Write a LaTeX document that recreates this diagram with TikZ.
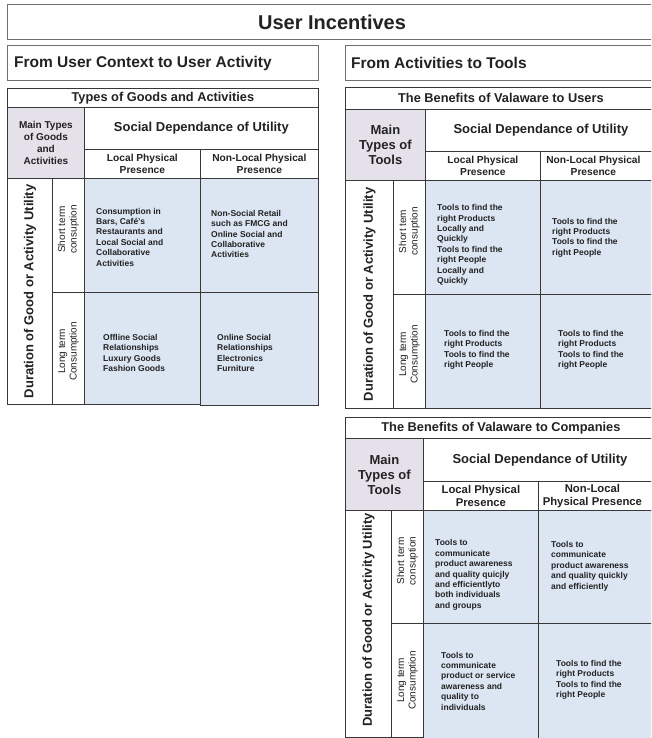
\documentclass[tikz,border=0pt]{standalone}
\usepackage{fontspec}
\setmainfont{Liberation Sans}
\definecolor{linedark}{HTML}{383838}
\definecolor{boxgray}{HTML}{707070}
\definecolor{lav}{HTML}{E5E1EA}
\definecolor{cellblue}{HTML}{DCE6F2}
\definecolor{ink}{HTML}{222222}
% font sizes (1pt = 1 unit of the picture)
\newcommand\fntTitle{\fontsize{20}{24}\selectfont\bfseries}
\newcommand\fntSec{\fontsize{15.5}{18}\selectfont\bfseries}
\newcommand\fntTab{\fontsize{12.8}{15}\selectfont\bfseries}
\newcommand\fntSoc{\fontsize{13}{15}\selectfont\bfseries}
\newcommand\fntMainS{\fontsize{10}{12}\selectfont\bfseries}
\newcommand\fntMainL{\fontsize{13}{15}\selectfont\bfseries}
\newcommand\fntCol{\fontsize{10.2}{12}\selectfont\bfseries}
\newcommand\fntColL{\fontsize{11.3}{13.5}\selectfont\bfseries}
\newcommand\fntDur{\fontsize{13}{15}\selectfont\bfseries}
\newcommand\fntRow{\fontsize{10}{11.5}\selectfont}
\newcommand\fntBody{\fontsize{8.5}{10.4}\selectfont\bfseries}
\tikzset{
  outerbox/.style={draw=boxgray, line width=1.1pt, inner sep=0pt, anchor=north west, text=ink},
  cellbase/.style={draw=linedark, line width=0.8pt, inner sep=0pt, anchor=north west, align=center, text=ink},
  lavcell/.style={cellbase, fill=lav},
  bluecell/.style={cellbase, fill=cellblue},
  rowlabel/.style={rotate=90, align=center, inner sep=0pt, text=ink},
  bodytxt/.style={font=\fntBody, align=left, anchor=west, inner sep=0pt, text=ink},
}
% \cellbox{name}{x1}{y1}{x2}{y2}{style}{text}
\newcommand\cellbox[7]{%
  \node[#6, minimum width={(#4-#2)*1pt}, minimum height={(#5-#3)*1pt}] (#1) at (#2,#3) {#7};}
\begin{document}
\begin{tikzpicture}[x=1pt,y=-1pt]
\useasboundingbox (0,0) rectangle (651,738);
\clip (0,0) rectangle (651,738);
\fill[white] (0,0) rectangle (651,738);

% banner and section headers
\cellbox{banner}{7}{4}{656}{39}{outerbox, font=\fntTitle}{User Incentives}
\cellbox{secL}{7}{45}{318}{80}{outerbox}{}
\node[font=\fntSec, anchor=west, inner sep=0pt, text=ink] (secLt) at ([xshift=7pt]secL.west) {From User Context to User Activity};
\cellbox{secR}{345}{45}{656}{80}{outerbox}{}
\node[font=\fntSec, anchor=west, inner sep=0pt, text=ink] (secRt) at ([xshift=6pt]secR.west) {From Activities to Tools};

% ---------- Types of Goods and Activities ----------
\cellbox{aT}{7}{88}{318}{107}{cellbase, font=\fntTab}{Types of Goods and Activities}
\cellbox{aM}{7}{107}{84}{178}{lavcell, font=\fntMainS}{Main Types\\of Goods\\and\\Activities}
\cellbox{aS}{84}{107}{318}{149}{cellbase, font=\fntSoc}{Social Dependance of Utility}
\cellbox{aL}{84}{149}{200}{178}{cellbase, font=\fntCol}{Local Physical\\Presence}
\cellbox{aN}{200}{149}{318}{178}{cellbase, font=\fntCol}{Non-Local Physical\\Presence}
\cellbox{aD}{7}{178}{52}{404}{cellbase}{}
\node[rowlabel, font=\fntDur] (aDt) at (aD.center) {Duration of Good or Activity Utility};
\cellbox{aR1}{52}{178}{84}{292}{cellbase}{}
\node[rowlabel, font=\fntRow] (aR1t) at ([yshift=6pt]aR1.center) {Short term\\consuption};
\cellbox{aR2}{52}{292}{84}{404}{cellbase}{}
\node[rowlabel, font=\fntRow] (aR2t) at ([yshift=-3pt]aR2.center) {Long term\\Consumption};
\cellbox{a11}{84}{178}{200}{292}{bluecell}{}
\cellbox{a12}{200}{178}{318}{292}{bluecell}{}
\cellbox{a21}{84}{292}{200}{404}{bluecell}{}
\cellbox{a22}{200}{292}{318}{405}{bluecell}{}
\node[bodytxt] (a11t) at (96,237) {Consumption in\\Bars, Caf\'e's\\Restaurants and\\Local Social and\\Collaborative\\Activities};
\node[bodytxt] (a12t) at (211,234) {Non-Social Retail\\such as FMCG and\\Online Social and\\Collaborative\\Activities};
\node[bodytxt] (a21t) at (103,353) {Offline Social\\Relationships\\Luxury Goods\\Fashion Goods};
\node[bodytxt] (a22t) at (217,353) {Online Social\\Relationships\\Electronics\\Furniture};

% ---------- Benefits to Users ----------
\cellbox{bT}{345}{87}{656}{109}{cellbase, font=\fntTab}{The Benefits of Valaware to Users}
\cellbox{bM}{345}{109}{425}{180}{lavcell, font=\fntMainL}{Main\\Types of\\Tools}
\cellbox{bS}{425}{109}{656}{151}{cellbase, font=\fntSoc}{Social Dependance of Utility}
\cellbox{bL}{425}{151}{540}{180}{cellbase, font=\fntCol}{Local Physical\\Presence}
\cellbox{bN}{540}{151}{656}{180}{cellbase}{}
\node[font=\fntCol, align=center, inner sep=0pt, text=ink] (bNt) at ([xshift=-5pt]bN.center) {Non-Local Physical\\Presence};
\cellbox{bD}{345}{180}{393}{408}{cellbase}{}
\node[rowlabel, font=\fntDur] (bDt) at (bD.center) {Duration of Good or Activity Utility};
\cellbox{bR1}{393}{180}{425}{294}{cellbase}{}
\node[rowlabel, font=\fntRow] (bR1t) at ([yshift=6pt]bR1.center) {Short tem\\consuption};
\cellbox{bR2}{393}{294}{425}{408}{cellbase}{}
\node[rowlabel, font=\fntRow] (bR2t) at ([yshift=-3pt]bR2.center) {Long term\\Consumption};
\cellbox{b11}{425}{180}{540}{294}{bluecell}{}
\cellbox{b12}{540}{180}{656}{294}{bluecell}{}
\cellbox{b21}{425}{294}{540}{408}{bluecell}{}
\cellbox{b22}{540}{294}{656}{408}{bluecell}{}
\node[bodytxt] (b11t) at (437,245) {Tools to find the\\right Products\\Locally and\\Quickly\\Tools to find the\\right People\\Locally and\\Quickly};
\node[bodytxt] (b12t) at (552,237.5) {Tools to find the\\right Products\\Tools to find the\\right People};
\node[bodytxt] (b21t) at (444,350) {Tools to find the\\right Products\\Tools to find the\\right People};
\node[bodytxt] (b22t) at (558,350) {Tools to find the\\right Products\\Tools to find the\\right People};

% ---------- Benefits to Companies ----------
\cellbox{cT}{345}{417}{656}{438}{cellbase, font=\fntTab}{The Benefits of Valaware to Companies}
\cellbox{cM}{345}{438}{423}{510}{lavcell, font=\fntMainL}{Main\\Types of\\Tools}
\cellbox{cS}{423}{438}{656}{481}{cellbase, font=\fntSoc}{Social Dependance of Utility}
\cellbox{cL}{423}{481}{538}{510}{cellbase, font=\fntColL}{Local Physical\\Presence}
\cellbox{cN}{538}{481}{656}{510}{cellbase}{}
\node[font=\fntColL, align=center, inner sep=0pt, text=ink] (cNt) at ([xshift=-5pt]cN.center) {Non-Local\\Physical Presence};
\cellbox{cD}{345}{510}{391}{737}{cellbase}{}
\node[rowlabel, font=\fntDur] (cDt) at ([yshift=4pt]cD.center) {Duration of Good or Activity Utility};
\cellbox{cR1}{391}{510}{423}{623}{cellbase}{}
\node[rowlabel, font=\fntRow] (cR1t) at ([yshift=6pt]cR1.center) {Short term\\consuption};
\cellbox{cR2}{391}{623}{423}{737}{cellbase}{}
\node[rowlabel, font=\fntRow] (cR2t) at ([yshift=0pt]cR2.center) {Long term\\Consumption};
\cellbox{c11}{423}{510}{538}{623}{bluecell}{}
\cellbox{c12}{538}{510}{656}{623}{bluecell}{}
\cellbox{c21}{423}{623}{538}{740}{bluecell}{}
\cellbox{c22}{538}{623}{656}{740}{bluecell}{}
\node[bodytxt] (c11t) at (435,575) {Tools to\\communicate\\product awareness\\and quality quicjly\\and efficientlyto\\both individuals\\and groups};
\node[bodytxt] (c12t) at (551,566) {Tools to\\communicate\\product awareness\\and quality quickly\\and efficiently};
\node[bodytxt] (c21t) at (441,681) {Tools to\\communicate\\product or service\\awareness and\\quality to\\individuals};
\node[bodytxt] (c22t) at (556,680) {Tools to find the\\right Products\\Tools to find the\\right People};
\end{tikzpicture}
\end{document}
